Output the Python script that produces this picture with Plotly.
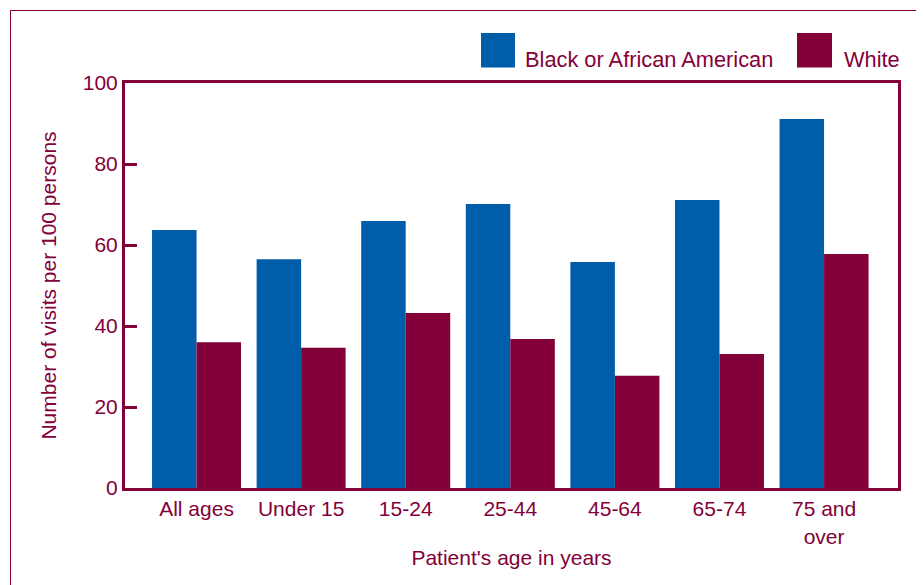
import plotly.graph_objects as go

categories = ["All ages", "Under 15", "15-24", "25-44", "45-64", "65-74", "75 and<br>over"]
black_values = [63.7, 56.5, 65.9, 70.1, 55.8, 71.1, 91.1]
white_values = [36.0, 34.6, 43.2, 36.8, 27.7, 33.1, 57.8]
series_names = ["Black or African American", "White"]
y_ticks = [0, 20, 40, 60, 80, 100]

BLUE = "#005DA9"
MAROON = "#840038"
FONT = "Liberation Sans, Arial, Helvetica, sans-serif"

OFF = 8  # page body margin
W, H = 924 - OFF, 585 - OFF
ML, MR, MT, MB = 125 - OFF, 26, 83 - OFF, 97
PW, PH = W - ML - MR, H - MT - MB

def px2x(px):
    return (px - OFF - ML) / PW

def px2y(py):
    return (H - MB - (py - OFF)) / PH

fig = go.Figure()
fig.add_trace(go.Bar(x=list(range(len(categories))), y=black_values, name=series_names[0],
                     marker=dict(color=BLUE, line=dict(width=0)), showlegend=False))
fig.add_trace(go.Bar(x=list(range(len(categories))), y=white_values, name=series_names[1],
                     marker=dict(color=MAROON, line=dict(width=0)), showlegend=False))

shapes = [
    # outer frame
    dict(type="rect", xref="paper", yref="paper", x0=px2x(10.5), x1=px2x(960), y0=px2y(620), y1=px2y(10.5),
         line=dict(color=MAROON, width=1), fillcolor="rgba(0,0,0,0)", layer="below"),
    # legend squares
    dict(type="rect", xref="paper", yref="paper", x0=px2x(481), x1=px2x(515), y0=px2y(67.5), y1=px2y(33),
         line=dict(width=0), fillcolor=BLUE),
    dict(type="rect", xref="paper", yref="paper", x0=px2x(797), x1=px2x(832), y0=px2y(67.5), y1=px2y(33),
         line=dict(width=0), fillcolor=MAROON),
]

annotations = [
    dict(text=series_names[0], xref="paper", yref="paper", x=px2x(523), y=px2y(74), xanchor="left", yanchor="bottom",
         showarrow=False, font=dict(size=21.8, color=MAROON, family=FONT)),
    dict(text=series_names[1], xref="paper", yref="paper", x=px2x(842), y=px2y(74), xanchor="left", yanchor="bottom",
         showarrow=False, font=dict(size=21.8, color=MAROON, family=FONT)),
]

fig.update_layout(
    width=W, height=H,
    margin=dict(l=ML, r=MR, t=MT, b=MB, autoexpand=False),
    paper_bgcolor="white", plot_bgcolor="white",
    barmode="group", bargap=0.149, bargroupgap=0,
    font=dict(family=FONT, size=21, color=MAROON),
    shapes=shapes, annotations=annotations,
    xaxis=dict(
        tickmode="array", tickvals=list(range(len(categories))), ticktext=categories,
        range=[-0.684, 6.707], showgrid=False, zeroline=False,
        showline=True, linecolor=MAROON, linewidth=3, mirror=True,
        ticks="", tickfont=dict(size=21, color=MAROON),
        title=dict(text="Patient's age in years", font=dict(size=21, color=MAROON), standoff=4),
    ),
    yaxis=dict(
        range=[0, 100], tickmode="array", tickvals=y_ticks, showgrid=False, zeroline=False,
        showline=True, linecolor=MAROON, linewidth=3, mirror=True,
        ticks="inside", ticklen=12, tickwidth=3, tickcolor=MAROON,
        tickfont=dict(size=21, color=MAROON),
        title=dict(text="Number of visits per 100 persons", font=dict(size=21, color=MAROON), standoff=21),
    ),
)

fig.write_html("out.html")
